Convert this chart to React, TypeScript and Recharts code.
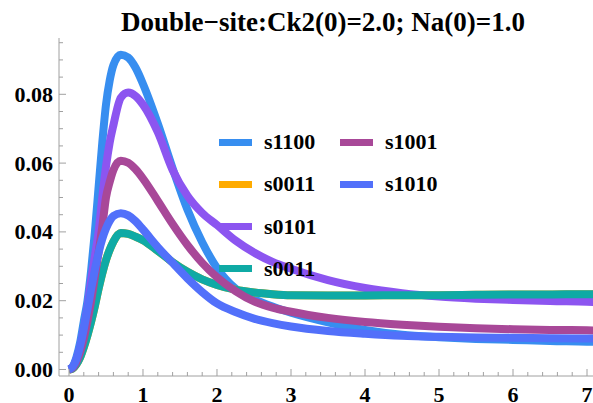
import React from 'react';
import { LineChart, Line, XAxis, YAxis, Legend } from 'recharts';

const xs = [0, 0.05, 0.1, 0.15, 0.2, 0.25, 0.3, 0.35, 0.4, 0.45, 0.5, 0.55, 0.6, 0.7, 0.8, 0.9, 1.0, 1.2, 1.4, 1.6, 1.8, 2.0, 2.25, 2.5, 2.75, 3.0, 3.5, 4.0, 4.5, 5.0, 5.5, 6.0, 6.5, 7.0, 7.15];

const s1100 = [0, 0.0008, 0.0035, 0.0078, 0.014, 0.020, 0.029, 0.040, 0.053, 0.066, 0.077, 0.084, 0.0885, 0.0915, 0.0907, 0.0877, 0.083, 0.0715, 0.0585, 0.0465, 0.037, 0.0295, 0.0235, 0.0205, 0.0183, 0.0165, 0.0137, 0.0115, 0.0101, 0.0094, 0.0089, 0.0086, 0.0083, 0.0081, 0.008];
const s0101 = [0, 0.0006, 0.0028, 0.0065, 0.0118, 0.018, 0.026, 0.033, 0.040, 0.050, 0.059, 0.066, 0.071, 0.079, 0.0805, 0.0795, 0.077, 0.069, 0.058, 0.0505, 0.0455, 0.042, 0.0375, 0.034, 0.0313, 0.0293, 0.026, 0.0237, 0.0222, 0.0212, 0.0206, 0.0202, 0.0199, 0.0197, 0.0196];
const s1001 = [0, 0.0005, 0.0022, 0.005, 0.009, 0.014, 0.020, 0.027, 0.034, 0.0415, 0.050, 0.0545, 0.058, 0.0607, 0.0601, 0.0582, 0.0555, 0.049, 0.0423, 0.0362, 0.031, 0.0268, 0.0228, 0.0198, 0.018, 0.0168, 0.015, 0.0138, 0.013, 0.0124, 0.012, 0.0117, 0.0115, 0.0114, 0.0113];
const s1010 = [0, 0.0008, 0.003, 0.0068, 0.0118, 0.0175, 0.0235, 0.029, 0.034, 0.038, 0.041, 0.0432, 0.0446, 0.0454, 0.0448, 0.0431, 0.0407, 0.0356, 0.031, 0.0265, 0.0225, 0.0192, 0.0167, 0.0148, 0.0135, 0.0125, 0.0112, 0.0104, 0.0098, 0.0095, 0.0093, 0.0092, 0.0091, 0.009, 0.009];
const s0011Teal = [0, 0.0003, 0.0015, 0.0035, 0.0065, 0.010, 0.014, 0.0185, 0.0235, 0.028, 0.0318, 0.0348, 0.0372, 0.0397, 0.0394, 0.0386, 0.0376, 0.0345, 0.0312, 0.0284, 0.0262, 0.0246, 0.0232, 0.0224, 0.0219, 0.0216, 0.0215, 0.0215, 0.0216, 0.0216, 0.0217, 0.0218, 0.0218, 0.0219, 0.0219];
const s0011Orange = [0, 0.0003, 0.0015, 0.0035, 0.0065, 0.010, 0.014, 0.0185, 0.0235, 0.028, 0.0318, 0.0348, 0.0372, 0.0397, 0.0394, 0.0386, 0.0376, 0.0345, 0.0312, 0.0284, 0.0262, 0.0246, 0.0232, 0.0224, 0.0219, 0.0216, 0.0215, 0.0215, 0.0216, 0.0216, 0.0217, 0.0218, 0.0218, 0.0219, 0.0219];

const xMajor = [0, 1, 2, 3, 4, 5, 6, 7];
const yMajor = [0, 0.02, 0.04, 0.06, 0.08];
const yLabels = ['0.00', '0.02', '0.04', '0.06', '0.08'];
const xTickAll = Array.from({ length: 36 }, (_, i) => +(i * 0.2).toFixed(1));
const yTickAll = Array.from({ length: 20 }, (_, i) => +(i * 0.005).toFixed(3));

const title = 'Double\u2212site:Ck2(0)=2.0; Na(0)=1.0';

const series = [
  { key: 's1100', name: 's1100', color: '#378ef0', values: s1100 },
  { key: 's0011a', name: 's0011', color: '#ffab00', values: s0011Orange },
  { key: 's0101', name: 's0101', color: '#8c55f0', values: s0101 },
  { key: 's0011b', name: 's0011', color: '#0faaa5', values: s0011Teal },
  { key: 's1001', name: 's1001', color: '#a84898', values: s1001 },
  { key: 's1010', name: 's1010', color: '#5270fa', values: s1010 },
];

// legend layout: column-wise, 4 rows in first column
const legendOrder = [
  { idx: 0, col: 0, row: 0 },
  { idx: 1, col: 0, row: 1 },
  { idx: 2, col: 0, row: 2 },
  { idx: 3, col: 0, row: 3 },
  { idx: 4, col: 1, row: 0 },
  { idx: 5, col: 1, row: 1 },
];

const data = xs.map((x, i) => {
  const row: Record<string, number> = { x };
  series.forEach((s) => {
    row[s.key] = s.values[i];
  });
  return row;
});

const FONT = '"Liberation Serif", "Times New Roman", Times, serif';
const AXIS = '#a0a0a0';

const XTickBottom = (props: any) => {
  const { x, y, payload } = props;
  const v = payload.value;
  const idx = xMajor.findIndex((m) => Math.abs(m - v) < 1e-6);
  const major = idx >= 0;
  return (
    <g>
      <line x1={x} x2={x} y1={y} y2={y - (major ? 7 : 4)} stroke={AXIS} strokeWidth={1} />
      {major && (
        <text x={x} y={y + 26} textAnchor="middle" fontFamily={FONT} fontWeight="bold" fontSize={22} fill="#000">
          {String(xMajor[idx])}
        </text>
      )}
    </g>
  );
};

const XTickTop = (props: any) => {
  const { x, y, payload } = props;
  const v = payload.value;
  const major = xMajor.some((m) => Math.abs(m - v) < 1e-6);
  return <line x1={x} x2={x} y1={y} y2={y + (major ? 7 : 4)} stroke={AXIS} strokeWidth={1} />;
};

const YTickLeft = (props: any) => {
  const { x, y, payload } = props;
  const v = payload.value;
  const idx = yMajor.findIndex((m) => Math.abs(m - v) < 1e-9);
  const major = idx >= 0;
  return (
    <g>
      <line x1={x} x2={x + (major ? 7 : 4)} y1={y} y2={y} stroke={AXIS} strokeWidth={1} />
      {major && (
        <text x={x - 6} y={y + 7.5} textAnchor="end" fontFamily={FONT} fontWeight="bold" fontSize={22} fill="#000">
          {yLabels[idx]}
        </text>
      )}
    </g>
  );
};

const LegendContent = () => (
  <div style={{ position: 'relative', width: 260, height: 170, fontFamily: FONT }}>
    {legendOrder.map((o, i) => {
      const s = series[o.idx];
      const cy = 22 + o.row * 42.3;
      const sx = o.col === 0 ? 9 : 130;
      return (
        <React.Fragment key={i}>
          <div style={{ position: 'absolute', left: sx, top: cy - 3.5, width: 33, height: 7, background: s.color }} />
          <div
            style={{
              position: 'absolute',
              left: sx + 45,
              top: cy - 11,
              fontSize: 22,
              lineHeight: '22px',
              fontWeight: 'bold',
              color: '#000',
              whiteSpace: 'nowrap',
            }}
          >
            {s.name}
          </div>
        </React.Fragment>
      );
    })}
  </div>
);

export default function App() {
  return (
    <div style={{ position: 'absolute', left: 0, top: 0, width: 593, height: 403, overflow: 'hidden', background: '#fff' }}>
      <div
        style={{
          position: 'absolute',
          left: 0,
          top: 9,
          width: 646,
          textAlign: 'center',
          fontFamily: FONT,
          fontWeight: 'bold',
          fontSize: 27,
          lineHeight: '27px',
          whiteSpace: 'nowrap',
          color: '#000',
          zIndex: 2,
        }}
      >
        {title}
      </div>
      <LineChart width={620} height={403} data={data} margin={{ top: 38, right: 22, bottom: 0, left: 0 }}>
        <XAxis
          dataKey="x"
          type="number"
          domain={[-0.1351, 7.1486]}
          allowDataOverflow
          ticks={xTickAll}
          interval={0}
          tickSize={0}
          tickMargin={0}
          tick={<XTickBottom />}
          height={27}
          axisLine={{ stroke: AXIS, strokeWidth: 1 }}
        />
        <XAxis
          xAxisId="top"
          orientation="top"
          dataKey="x"
          type="number"
          domain={[-0.1351, 7.1486]}
          allowDataOverflow
          ticks={xTickAll}
          interval={0}
          tickSize={0}
          tickMargin={0}
          tick={<XTickTop />}
          height={0}
          axisLine={{ stroke: AXIS, strokeWidth: 1 }}
        />
        <YAxis
          type="number"
          domain={[-0.00189, 0.09637]}
          allowDataOverflow
          ticks={yTickAll}
          interval={0}
          tickSize={0}
          tickMargin={0}
          tick={<YTickLeft />}
          width={59}
          axisLine={{ stroke: AXIS, strokeWidth: 1 }}
        />
        {series.map((s) => (
          <Line
            key={s.key}
            dataKey={s.key}
            name={s.name}
            type="monotone"
            stroke={s.color}
            strokeWidth={8}
            dot={false}
            activeDot={false}
            isAnimationActive={false}
          />
        ))}
        <Legend
          layout="horizontal"
          verticalAlign="middle"
          align="center"
          content={<LegendContent />}
          wrapperStyle={{ position: 'absolute', left: 210, top: 120, width: 260, height: 170 }}
        />
      </LineChart>
    </div>
  );
}
